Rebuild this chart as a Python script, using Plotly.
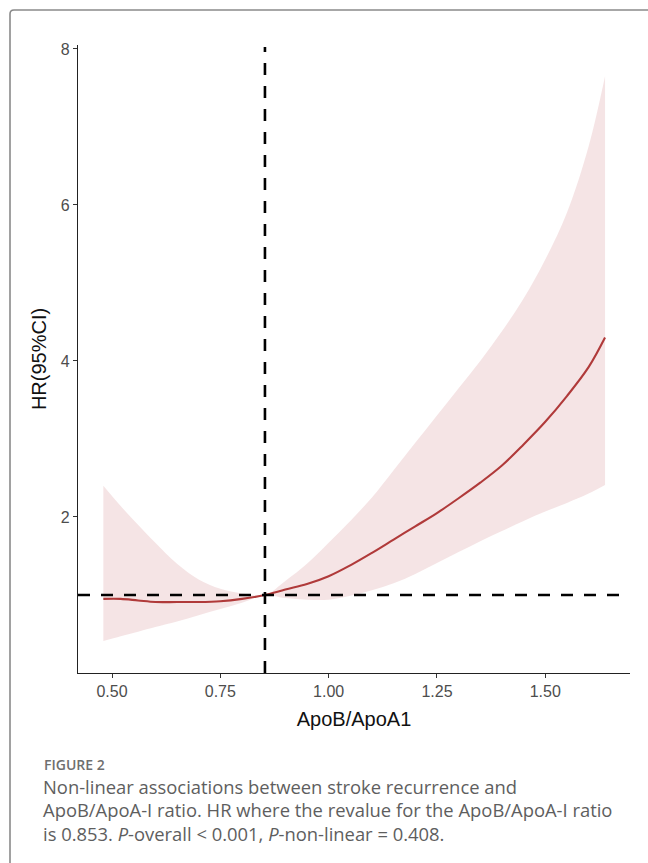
import plotly.graph_objects as go

# ---- data ----
ratio = [0.48, 0.52, 0.56, 0.60, 0.65, 0.70, 0.75, 0.80, 0.853, 0.90, 0.95, 1.00,
         1.05, 1.10, 1.15, 1.20, 1.25, 1.30, 1.35, 1.40, 1.45, 1.50, 1.55, 1.60, 1.638]
hr = [0.95, 0.95, 0.93, 0.91, 0.91, 0.91, 0.92, 0.95, 1.00, 1.07, 1.14, 1.24,
      1.38, 1.54, 1.71, 1.88, 2.05, 2.24, 2.44, 2.66, 2.93, 3.22, 3.55, 3.92, 4.30]
lower = [0.41, 0.47, 0.53, 0.59, 0.66, 0.74, 0.82, 0.90, 1.00, 0.96, 0.94, 0.94,
         0.99, 1.06, 1.15, 1.27, 1.41, 1.55, 1.69, 1.82, 1.95, 2.07, 2.18, 2.30, 2.41]
upper = [2.40, 2.14, 1.90, 1.67, 1.40, 1.20, 1.08, 1.02, 1.00, 1.18, 1.40, 1.67,
         1.95, 2.25, 2.60, 2.95, 3.30, 3.65, 4.00, 4.38, 4.80, 5.30, 5.90, 6.75, 7.65]
ref_value = 0.853
hr_ref = 1.0
x_ticks = [0.50, 0.75, 1.00, 1.25, 1.50]
x_tick_text = ["0.50", "0.75", "1.00", "1.25", "1.50"]
y_ticks = [2, 4, 6, 8]

caption_label = "FIGURE 2"
caption_lines = [
    "Non-linear associations between stroke recurrence and",
    "ApoB/ApoA-I ratio. HR where the revalue for the ApoB/ApoA-I ratio",
    "is 0.853. <i>P</i>-overall &lt; 0.001, <i>P</i>-non-linear = 0.408.",
]

W, H = 648, 863
ML, MR, MT, MB = 78, 18, 45, 190
PW, PH = W - ML - MR, H - MT - MB


def px(x):
    return (x - ML) / PW


def py(y):
    return (H - MB - y) / PH


fig = go.Figure()
fig.add_trace(go.Scatter(x=ratio, y=lower, mode="lines", line=dict(width=0),
                         line_shape="spline", hoverinfo="skip", showlegend=False))
fig.add_trace(go.Scatter(x=ratio, y=upper, mode="lines", line=dict(width=0),
                         line_shape="spline", fill="tonexty",
                         fillcolor="rgba(205,120,125,0.20)",
                         hoverinfo="skip", showlegend=False))
fig.add_trace(go.Scatter(x=ratio, y=hr, mode="lines", line_shape="spline",
                         line=dict(color="#B03A3A", width=2.1), showlegend=False))

# reference dashed lines
fig.add_shape(type="line", xref="x", yref="paper", x0=ref_value, x1=ref_value, y0=0, y1=0.997,
              line=dict(color="black", width=2.6, dash="12px,11px"))
fig.add_shape(type="line", xref="paper", yref="y", x0=0, x1=1, y0=hr_ref, y1=hr_ref,
              line=dict(color="black", width=2.6, dash="12px,11px"))

# frame (top & left border of the figure box)
fig.add_shape(type="path", xref="paper", yref="paper",
              path=f"M {px(10)},{py(870)} L {px(10)},{py(14)} Q {px(10)},{py(10)} {px(14)},{py(10)} L {px(660)},{py(10)}",
              line=dict(color="#8a8a8a", width=1.6))

# caption
fig.add_annotation(xref="paper", yref="paper", x=px(42), y=py(764), xanchor="left", yanchor="middle",
                   text=caption_label, showarrow=False,
                   font=dict(family="Open Sans", size=14, color="#6f6f6f", weight=600))
for i, line in enumerate(caption_lines):
    fig.add_annotation(xref="paper", yref="paper", x=px(41), y=py(786 + 23.5 * i),
                       xanchor="left", yanchor="middle", text=line, showarrow=False,
                       font=dict(family="Open Sans", size=18.4, color="#5e5e5e"))

fig.update_layout(
    width=W, height=H,
    margin=dict(l=ML, r=MR, t=MT, b=MB, pad=0),
    paper_bgcolor="white", plot_bgcolor="white",
    font=dict(family="Liberation Sans, Arial, sans-serif"),
    showlegend=False,
)
fig.update_xaxes(range=[0.4215, 1.6956], tickvals=x_ticks, ticktext=x_tick_text,
                 showgrid=False, zeroline=False, showline=True, linecolor="#222", linewidth=1.3,
                 ticks="outside", ticklen=4, tickwidth=1.1, tickcolor="#333",
                 tickfont=dict(size=16, color="#4D4D4D"),
                 title=dict(text="ApoB/ApoA1", font=dict(size=20, color="#111"), standoff=12))
fig.update_yaxes(range=[0.0, 8.05], tickvals=y_ticks,
                 showgrid=False, zeroline=False, showline=True, linecolor="#222", linewidth=1.3,
                 ticks="outside", ticklen=4, tickwidth=1.1, tickcolor="#333",
                 tickfont=dict(size=16, color="#4D4D4D"),
                 title=dict(text="HR(95%CI)", font=dict(size=20, color="#111"), standoff=8))

fig.write_html("out.html", config={"displayModeBar": False},
               post_script="document.body.style.margin='0';document.body.style.overflow='hidden';")
